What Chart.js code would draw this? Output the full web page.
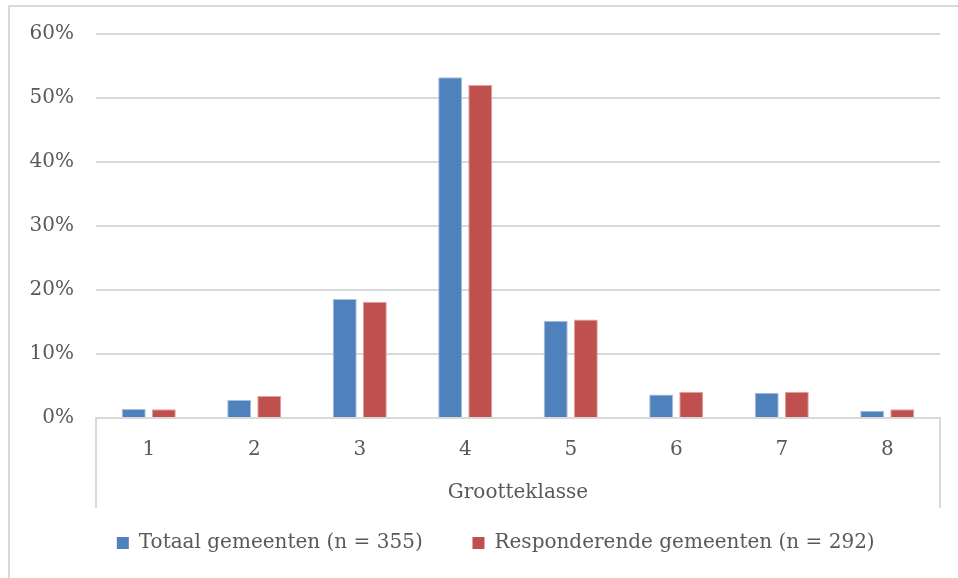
<!DOCTYPE html>
<html>
<head>
<meta charset="utf-8">
<script src="https://cdn.jsdelivr.net/npm/chart.js@4"></script>
<style>
  html, body { margin: 0; padding: 0; background: #fff; overflow: hidden; }
  #wrap { position: relative; width: 958px; height: 578px; overflow: hidden; }
  #frame {
    position: absolute; left: 8px; top: 5px; width: 1200px; height: 800px;
    border-left: 2px solid #D9D9D9; border-top: 2px solid #D9D9D9;
    pointer-events: none;
  }
  canvas { position: absolute; left: 0; top: 0; }
</style>
</head>
<body>
<div id="wrap">
  <div id="frame"></div>
  <canvas id="chart" width="958" height="578"></canvas>
</div>
<script>
const CLASSES   = ['1', '2', '3', '4', '5', '6', '7', '8'];
const TOTAAL    = [1.41, 2.82, 18.59, 53.24, 15.21, 3.66, 3.94, 1.13];
const RESPONS   = [1.37, 3.42, 18.15, 52.05, 15.41, 4.11, 4.11, 1.37];
const Y_TICKS   = [0, 10, 20, 30, 40, 50, 60];
const LABELS    = ['Totaal gemeenten (n = 355)', 'Responderende gemeenten (n = 292)'];

const FONT = "'DejaVu Serif', serif";
const TEXT = '#595959';
const GRID = '#D9D9D9';
const NBSP = '\u00a0';

// Excel-style box under the category axis: two vertical lines at the plot edges
const axisBox = {
  id: 'axisBox',
  afterDraw(chart) {
    const { ctx, chartArea: a } = chart;
    ctx.save();
    ctx.strokeStyle = GRID;
    ctx.lineWidth = 2;
    ctx.beginPath();
    ctx.moveTo(a.left, a.bottom);
    ctx.lineTo(a.left, a.bottom + 90);
    ctx.moveTo(a.right, a.bottom);
    ctx.lineTo(a.right, a.bottom + 90);
    ctx.stroke();
    ctx.restore();
  },
};

new Chart(document.getElementById('chart'), {
  type: 'bar',
  data: {
    labels: CLASSES,
    datasets: [
      {
        label: LABELS[0],
        data: TOTAAL,
        backgroundColor: '#4F81BD',
        borderColor: '#A9C1DF',
        borderWidth: 1,
        categoryPercentage: 0.57,
        barPercentage: 0.8,
      },
      {
        label: LABELS[1],
        data: RESPONS,
        backgroundColor: '#C0504D',
        borderColor: '#E0A3A1',
        borderWidth: 1,
        categoryPercentage: 0.57,
        barPercentage: 0.8,
      },
    ],
  },
  options: {
    responsive: false,
    animation: false,
    layout: { padding: { top: 27, left: 26, right: 18, bottom: 15 } },
    plugins: {
      tooltip: { enabled: false },
      legend: {
        position: 'bottom',
        fullSize: false,
        labels: {
          font: { family: FONT, size: 20 },
          color: TEXT,
          boxWidth: 12,
          boxHeight: 12,
          padding: 18,
          // widen the gap between the two entries like the original legend
          generateLabels(chart) {
            const items = Chart.defaults.plugins.legend.labels.generateLabels(chart);
            items.forEach(it => { it.lineWidth = 0; });
            items[0].text += NBSP.repeat(5);
            items[1].text += NBSP.repeat(7);
            return items;
          },
        },
      },
    },
    scales: {
      x: {
        grid: { display: false },
        border: { display: true, color: GRID, width: 2 },
        ticks: { font: { family: FONT, size: 20 }, color: TEXT, padding: 12 },
        title: {
          display: true,
          text: 'Grootteklasse',
          font: { family: FONT, size: 20 },
          color: TEXT,
          padding: { top: 0, bottom: 10 },
        },
        afterFit(scale) { scale.height = 97; },
      },
      y: {
        min: 0,
        max: 60,
        afterBuildTicks(scale) { scale.ticks = Y_TICKS.map(v => ({ value: v })); },
        grid: { color: GRID, lineWidth: 2, drawTicks: false },
        border: { display: false },
        ticks: {
          font: { family: FONT, size: 20 },
          color: TEXT,
          padding: 22,
          callback: v => v + '%',
        },
        afterFit(scale) { scale.width = 70; },
      },
    },
  },
  plugins: [axisBox],
});
</script>
</body>
</html>
